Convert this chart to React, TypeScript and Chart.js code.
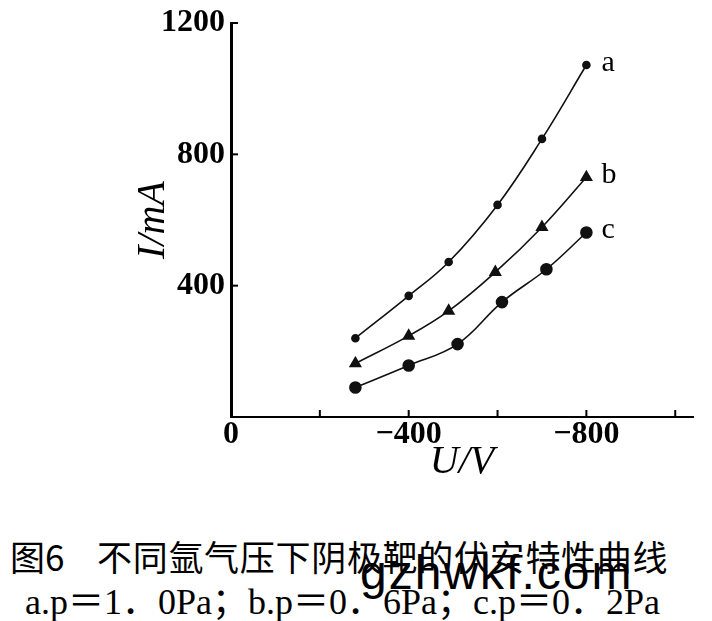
import React, { useEffect, useRef } from 'react';
import { Chart, registerables } from 'chart.js';

Chart.register(...registerables);

// ---- data ----
const voltageA = [-280, -400, -490, -600, -700, -800];
const currentA = [240, 369, 472, 646, 847, 1072];
const voltageB = [-280, -400, -490, -595, -700, -800];
const currentB = [163, 247, 323, 441, 578, 730];
const voltageC = [-280, -400, -510, -610, -710, -800];
const currentC = [90, 157, 222, 350, 450, 562];
const curveLabels = ['a', 'b', 'c'];
const xTickValues = [0, -200, -400, -600, -800, -1000];
const xLabeledTicks = [0, -400, -800];
const yTickValues = [0, 400, 800, 1200];
const yLabeledTicks = [400, 800, 1200];
const xAxisTitle = 'U/V';
const yAxisTitle = 'I/mA';
const captionFigure = '图6';
const captionTitle = '不同氩气压下阴极靶的伏安特性曲线';
const captionLegend = 'a.p＝1．0Pa；b.p＝0．6Pa；c.p＝0．2Pa';
const watermark = 'gzhwkf.com';

const toPoints = (xs: number[], ys: number[]) => xs.map((x, i) => ({ x, y: ys[i] }));
const fmt = (v: number) => (v < 0 ? '\u2212' + Math.abs(v) : String(v));

const innerTicks = {
  id: 'innerTicks',
  afterDraw(chart: any) {
    const { ctx, chartArea, scales } = chart;
    ctx.save();
    ctx.strokeStyle = '#000';
    ctx.lineWidth = 2;
    scales.x.ticks.forEach((t: any) => {
      if (t.value === 0) return;
      const px = scales.x.getPixelForValue(t.value);
      ctx.beginPath();
      ctx.moveTo(px, chartArea.bottom);
      ctx.lineTo(px, chartArea.bottom - 7);
      ctx.stroke();
    });
    scales.y.ticks.forEach((t: any) => {
      if (t.value === 0) return;
      const py = scales.y.getPixelForValue(t.value);
      ctx.beginPath();
      ctx.moveTo(chartArea.left, py);
      ctx.lineTo(chartArea.left + 7, py);
      ctx.stroke();
    });
    ctx.restore();
  },
};

const endLabels = {
  id: 'endLabels',
  afterDatasetsDraw(chart: any) {
    const { ctx } = chart;
    ctx.save();
    ctx.fillStyle = '#000';
    ctx.font = "30px 'Liberation Serif'";
    ctx.textAlign = 'left';
    ctx.textBaseline = 'middle';
    chart.data.datasets.forEach((ds: any, i: number) => {
      const meta = chart.getDatasetMeta(i);
      const el = meta.data[meta.data.length - 1];
      if (el) ctx.fillText(ds.label, el.x + 15, el.y - 2);
    });
    ctx.restore();
  },
};

export default function App() {
  const ref = useRef<HTMLCanvasElement | null>(null);

  useEffect(() => {
    if (!ref.current) return;
    const common = {
      borderColor: '#111',
      borderWidth: 1.6,
      pointBackgroundColor: '#111',
      pointBorderColor: '#111',
      tension: 0.4,
      fill: false,
    };
    const chart = new Chart(ref.current, {
      type: 'line',
      data: {
        datasets: [
          { ...common, label: curveLabels[0], data: toPoints(voltageA, currentA), pointStyle: 'circle', pointRadius: 3.5 },
          { ...common, label: curveLabels[1], data: toPoints(voltageB, currentB), pointStyle: 'triangle', pointRadius: 6 },
          { ...common, label: curveLabels[2], data: toPoints(voltageC, currentC), pointStyle: 'circle', pointRadius: 5.5 },
        ],
      },
      options: {
        animation: false,
        responsive: false,
        events: [],
        layout: { padding: { left: 0, right: 19, top: 23, bottom: 0 } },
        plugins: { legend: { display: false }, tooltip: { enabled: false } },
        scales: {
          x: {
            type: 'linear',
            reverse: true,
            min: -1040,
            max: 0,
            afterBuildTicks: (scale: any) => {
              scale.ticks = xTickValues.map((v) => ({ value: v }));
            },
            afterFit: (scale: any) => {
              scale.height = 83;
            },
            grid: { display: false, drawTicks: false },
            border: { display: true, color: '#000', width: 2 },
            ticks: {
              color: '#000',
              padding: 2,
              font: { family: 'Liberation Serif', size: 32, weight: 'bold', lineHeight: 1 },
              autoSkip: false,
              maxRotation: 0,
              callback: (v: any) => (xLabeledTicks.includes(Number(v)) ? fmt(Number(v)) : ''),
            },
            title: {
              display: true,
              text: xAxisTitle,
              color: '#000',
              font: { family: 'Liberation Serif', size: 40, style: 'italic', lineHeight: 1 },
              padding: { top: 0, bottom: 18 },
            },
          },
          y: {
            type: 'linear',
            min: 0,
            max: 1200,
            afterBuildTicks: (scale: any) => {
              scale.ticks = yTickValues.map((v) => ({ value: v }));
            },
            afterFit: (scale: any) => {
              scale.width = 231;
            },
            grid: { display: false, drawTicks: false },
            border: { display: true, color: '#000', width: 3 },
            ticks: {
              color: '#000',
              padding: 6,
              font: { family: 'Liberation Serif', size: 32, weight: 'bold', lineHeight: 1 },
              autoSkip: false,
              callback: (v: any) => (yLabeledTicks.includes(Number(v)) ? fmt(Number(v)) : ''),
            },
            title: {
              display: true,
              text: yAxisTitle,
              color: '#000',
              font: { family: 'Liberation Serif', size: 40, style: 'italic', lineHeight: 1 },
              padding: { top: 133, bottom: 0 },
            },
          },
        },
      },
      plugins: [innerTicks, endLabels],
    } as any);
    return () => chart.destroy();
  }, []);

  return (
    <div style={{ position: 'absolute', left: 0, top: 0, width: 712, height: 621, background: '#fff', overflow: 'hidden' }}>
      <canvas ref={ref} width={712} height={500} style={{ display: 'block', width: 712, height: 500 }} />
      <div style={{ position: 'absolute', left: 10, top: 538, font: "35px 'Noto Sans CJK SC'", lineHeight: '35px', whiteSpace: 'pre', color: '#000' }}>
        {captionFigure}
      </div>
      <div style={{ position: 'absolute', left: 97, top: 538, font: "35px 'Noto Sans CJK SC'", lineHeight: '35px', letterSpacing: 0.7, whiteSpace: 'pre', color: '#000' }}>
        {captionTitle}
      </div>
      <div style={{ position: 'absolute', left: 25, top: 584, fontFamily: "'Liberation Serif', 'Noto Sans CJK SC'", fontSize: 36, lineHeight: '36px', whiteSpace: 'pre', color: '#000' }}>
        {captionLegend}
      </div>
      <div style={{ position: 'absolute', left: 360, top: 549, fontFamily: "'Liberation Sans'", fontSize: 48, lineHeight: '48px', letterSpacing: 2, whiteSpace: 'pre', color: '#000' }}>
        {watermark}
      </div>
    </div>
  );
}
